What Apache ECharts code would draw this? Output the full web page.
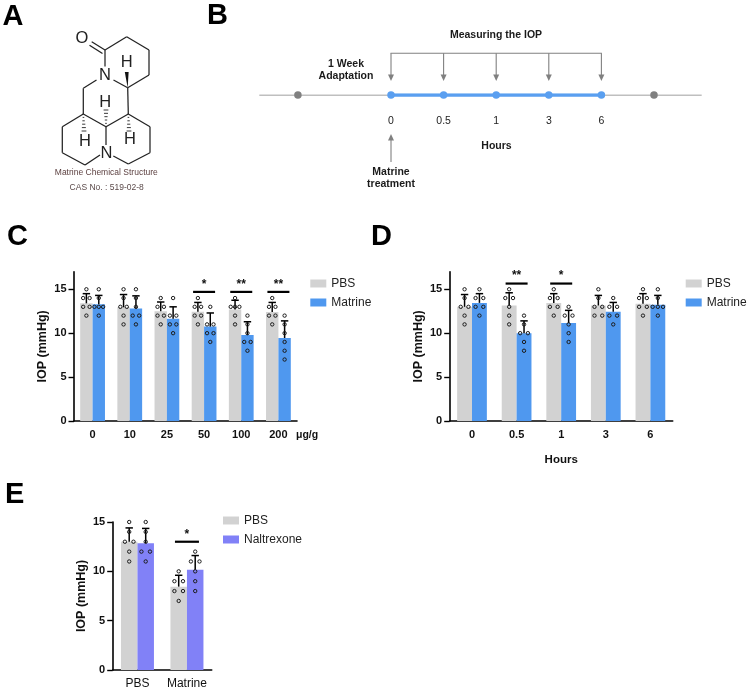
<!DOCTYPE html>
<html><head><meta charset="utf-8">
<style>html,body{margin:0;padding:0;background:#fff}#c{width:750px;height:693px}</style>
<script src="https://cdn.jsdelivr.net/npm/echarts@6/dist/echarts.min.js"></script>
</head><body><div id="c"></div>
<script>
// ---------- Data ----------
const catsC = ['0','10','25','50','100','200'];
const meanPbsC = [13.4,12.95,12.5,12.45,12.7,12.4];
const meanMatC = [13.3,12.8,11.65,10.75,9.8,9.45];
const capPbsC = [14.5,14.4,13.55,13.5,13.75,13.5];
const capMatC = [14.3,14.25,13.0,12.3,11.3,11.4];
const dotsPbsC = [[15,14,14,13,13,12],[15,14,13,13,12,11],[14,13,13,12,12,11],[14,13,13,12,12,11],[14,13,13,13,12,11],[14,13,13,12,12,11]];
const dotsMatC = [[15,14,13,13,13,12],[15,14,13,12,12,11],[14,12,12,11,11,10],[13,11,11,10,10,9],[12,11,10,9,9,8],[12,11,10,9,8,7]];
const sigC = [[3,14.7,'*'],[4,14.7,'**'],[5,14.7,'**']];

const catsD = ['0','0.5','1','3','6'];
const meanPbsD = [13.0,13.15,13.45,13.15,13.35];
const meanMatD = [13.45,10.0,11.15,12.45,13.25];
const capPbsD = [14.4,14.6,14.5,14.3,14.5];
const capMatD = [14.5,11.4,12.6,13.5,14.3];
const dotsPbsD = [[15,14,13,13,12,11],[15,14,14,13,12,11],[15,14,14,13,13,12],[15,14,13,13,12,12],[15,14,14,13,13,12]];
const dotsMatD = [[15,14,14,13,13,12],[12,11,10,10,9,8],[13,12,12,11,10,9],[14,13,13,12,12,11],[15,14,13,13,13,12]];
const sigD = [[1,15.65,'**'],[2,15.65,'*']];

const catsE = ['PBS','Matrine'];
const meanPbsE = [13.0,8.45];
const meanNalE = [12.85,10.15];
const capPbsE = [14.4,9.6];
const capNalE = [14.35,11.6];
const dotsPbsE = [[15,14,13,13,12,11],[10,9,9,8,8,7]];
const dotsNalE = [[15,14,13,12,12,11],[12,11,11,10,9,8]];
const sigE = [[1,13,'*']];
const yTicks = [0,5,10,15];

const timelineSlots = [-1.77,0,1,2,3,4,5];
const timelineHours = ['', '0','0.5','1','3','6',''];

// ---------- Style ----------
const FONT='"Liberation Sans",Arial,sans-serif', INK='#111';
const GRAY='#d2d2d2', BLUE='#4f98ef', PURPLE='#8181f7', LINEGRAY='#808080', TLBLUE='#5a9ff0';

function flat(dotsByCat, side){
  const out=[];
  dotsByCat.forEach((vals,cat)=>{
    const rows={};
    vals.forEach(v=>{rows[v]=(rows[v]||0)+1;});
    Object.keys(rows).forEach(k=>{
      const n=rows[k];
      for(let i=0;i<n;i++) out.push([cat,+k,side,n,i]);
    });
  });
  return out;
}
function dotItem(p,a){
  const pt=a.coord([a.value(0),a.value(1)]);
  const band=a.size([1,0])[0], bw=band/3;
  const side=a.value(2), n=a.value(3), i=a.value(4);
  const step = n===1?0 : n===2 ? 0.52*bw : 0.35*bw;
  const dx=(i-(n-1)/2)*step;
  return {type:'circle',shape:{cx:pt[0]+side*bw/2+dx,cy:pt[1],r:1.7},
    style:{fill:'none',stroke:'#1c1c1c',lineWidth:1}};
}
function errItem(p,a){
  const band=a.size([1,0])[0], bw=band/3, side=a.value(2);
  const m=a.coord([a.value(0),a.value(1)]), t=a.coord([a.value(0),a.value(3)]);
  const x=m[0]+side*bw/2;
  return {type:'group',children:[
    {type:'line',shape:{x1:x,y1:m[1],x2:x,y2:t[1]},style:{stroke:'#000',lineWidth:1.5}},
    {type:'line',shape:{x1:x-3.7,y1:t[1],x2:x+3.7,y2:t[1]},style:{stroke:'#000',lineWidth:1.5}}
  ]};
}
function sigItem(p,a){
  const pt=a.coord([a.value(0),a.value(1)]);
  const half=a.value(3)/2;
  return {type:'group',children:[
    {type:'line',shape:{x1:pt[0]-half,y1:pt[1],x2:pt[0]+half,y2:pt[1]},style:{stroke:'#000',lineWidth:2.2}},
    {type:'text',x:pt[0],y:pt[1]-7.5,style:{text:a.value(2)===1?'*':'**',align:'center',verticalAlign:'middle',font:'bold 12px '+FONT,fill:INK}}
  ]};
}
const grids=[], xAxes=[], yAxes=[], series=[];
function panel(g){
  const i=grids.length;
  grids.push({left:g.left,top:g.top,width:g.width,height:g.height});
  xAxes.push({type:'category',gridIndex:i,data:g.cats,boundaryGap:true,
    axisLine:{lineStyle:{color:'#000',width:1.6}},
    axisTick:{alignWithLabel:true,length:5,lineStyle:{color:'#000',width:1.4}},
    axisLabel:{color:INK,interval:0,fontFamily:FONT,fontSize:g.xFont,fontWeight:g.xWeight,margin:g.xMargin},
    name:g.xName||'',nameLocation:'center',nameGap:33,
    nameTextStyle:{color:INK,fontFamily:FONT,fontSize:11.5,fontWeight:'bold'}});
  yAxes.push({type:'value',gridIndex:i,min:0,max:g.max,interval:5,splitLine:{show:false},
    axisLine:{show:true,lineStyle:{color:'#000',width:1.6}},
    axisTick:{show:true,length:5.5,lineStyle:{color:'#000',width:1.4},customValues:yTicks},
    axisLabel:{color:INK,fontFamily:FONT,fontSize:11,fontWeight:'bold',margin:7.5,customValues:yTicks},
    name:'IOP (mmHg)',nameLocation:'center',nameGap:24.5,
    nameTextStyle:{color:INK,fontFamily:FONT,fontSize:12.5,fontWeight:'bold'}});
  g.bars.forEach(b=>series.push({type:'bar',name:b.name,xAxisIndex:i,yAxisIndex:i,data:b.mean,
    barWidth:'33.33%',barGap:0,itemStyle:{color:b.color},silent:true}));
  const sides=[-1,1];
  const errs=[],dots=[];
  g.bars.forEach((b,k)=>{
    b.mean.forEach((m,c)=>errs.push([c,m,sides[k],b.cap[c]]));
    dots.push(...flat(b.dots,sides[k]));
  });
  series.push({type:'custom',name:'error',xAxisIndex:i,yAxisIndex:i,data:errs,encode:{x:0,y:1},renderItem:errItem,silent:true,z:3});
  series.push({type:'custom',name:'points',xAxisIndex:i,yAxisIndex:i,data:dots,encode:{x:0,y:1},renderItem:dotItem,silent:true,z:4});
  series.push({type:'custom',name:'significance',xAxisIndex:i,yAxisIndex:i,
    data:g.sig.map(s=>[s[0],s[1],s[2].length,g.sigW]),encode:{x:0,y:1},renderItem:sigItem,silent:true,z:5});
}
panel({left:74,top:271.7,width:223,height:149.3,max:17,cats:catsC,xFont:11,xWeight:'bold',xMargin:8,sigW:22,sig:sigC,
  bars:[{name:'PBS',color:GRAY,mean:meanPbsC,cap:capPbsC,dots:dotsPbsC},{name:'Matrine',color:BLUE,mean:meanMatC,cap:capMatC,dots:dotsMatC}]});
panel({left:449.7,top:271.7,width:223,height:149.3,max:17,cats:catsD,xFont:11,xWeight:'bold',xMargin:8,xName:'Hours',sigW:22,sig:sigD,
  bars:[{name:'PBS',color:GRAY,mean:meanPbsD,cap:capPbsD,dots:dotsPbsD},{name:'Matrine',color:BLUE,mean:meanMatD,cap:capMatD,dots:dotsMatD}]});
panel({left:112.7,top:522,width:99,height:148,max:15,cats:catsE,xFont:12,xWeight:'normal',xMargin:8,sigW:24,sig:sigE,
  bars:[{name:'PBS',color:GRAY,mean:meanPbsE,cap:capPbsE,dots:dotsPbsE},{name:'Naltrexone',color:PURPLE,mean:meanNalE,cap:capNalE,dots:dotsNalE}]});

// ---------- Panel B timeline on a hidden axis ----------
const tl=grids.length;
grids.push({left:259.3,top:95,width:442.4,height:1});
xAxes.push({type:'value',gridIndex:tl,min:-2.504,max:5.907,show:false});
yAxes.push({type:'value',gridIndex:tl,min:0,max:1,show:false});
series.push({type:'line',name:'baseline',xAxisIndex:tl,yAxisIndex:tl,data:[[-2.504,1],[5.907,1]],symbol:'none',silent:true,
  lineStyle:{color:LINEGRAY,width:1.2},z:2});
series.push({type:'line',name:'measurement',xAxisIndex:tl,yAxisIndex:tl,data:timelineSlots.slice(1,6).map((x,i)=>({value:[x,1],label:{show:true,formatter:timelineHours[i+1]}})),
  symbol:'circle',symbolSize:7.5,silent:true,lineStyle:{color:TLBLUE,width:3.4},itemStyle:{color:TLBLUE},z:3,
  label:{show:true,position:'bottom',distance:17,color:'#222',fontFamily:FONT,fontSize:10.5}});
series.push({type:'scatter',name:'adaptation',xAxisIndex:tl,yAxisIndex:tl,data:[[timelineSlots[0],1],[timelineSlots[6],1]],
  symbolSize:7.5,itemStyle:{color:LINEGRAY,opacity:1},silent:true,z:3});
function arrow(x,y1,tipY){
  const dir=tipY>y1?1:-1;
  return [
    {type:'line',shape:{x1:x,y1:y1,x2:x,y2:tipY-dir*5},style:{stroke:LINEGRAY,lineWidth:1.1}},
    {type:'polygon',shape:{points:[[x-3,tipY-dir*6.5],[x+3,tipY-dir*6.5],[x,tipY]]},style:{fill:LINEGRAY}}
  ];
}
series.push({type:'custom',name:'arrows',xAxisIndex:tl,yAxisIndex:tl,data:timelineSlots.slice(1,6).map(x=>[x,1]),silent:true,z:2,
  encode:{x:0,y:1},
  renderItem:(p,a)=>{
    const x=a.coord([a.value(0),1])[0], kids=arrow(x,53.3,81);
    if(p.dataIndex===0){
      kids.push(...arrow(x,162,134));
      kids.push({type:'line',shape:{x1:x-0.5,y1:53.3,x2:a.coord([timelineSlots[5],1])[0]+0.5,y2:53.3},style:{stroke:LINEGRAY,lineWidth:1.1}});
    }
    return {type:'group',children:kids};
  }});

// ---------- Panel A structure (illustration) ----------
const bonds=[
 [[91.7,41.7],[105,50]],[[89.5,45.2],[102.5,53.5]],
 [[105,50],[126.7,36.7]],[[126.7,36.7],[149,50]],[[149,50],[149,75]],[[149,75],[127.7,87.7]],[[127.7,87.7],[113.5,80]],[[105,50],[105,66.5]],
 [[96.5,80],[83.3,88.3]],[[83.3,88.3],[83.3,114]],[[83.3,114],[62.3,126.7]],[[62.3,126.7],[62.3,152.7]],[[62.3,152.7],[85,165]],[[85,165],[100,155]],
 [[83.3,114],[106,126.7]],[[106,126.7],[106,145]],[[106,126.7],[128.3,114]],[[128.3,114],[127.7,87.7]],
 [[128.3,114],[150,126.7]],[[150,126.7],[150,152.7]],[[150,152.7],[128.3,164]],[[128.3,164],[113.3,156]]
];
const atoms=[['O',82,38.8],['N',105,75.5],['N',106.5,153.5],['H',126.7,62.5],['H',105.3,102],['H',85,141],['H',130,139.5]];
const hashed=[[[106,126.7],[106,110]],[[83.3,114],[84,131]],[[128.3,114],[129,131]]];
const panelLetters=[['A',2.5,17],['B',207,16],['C',7,236.5],['D',371,236.5],['E',5,494.5]];
const bTexts=[['Measuring the IOP',496,34.7,1],['1 Week',346,64,1],['Adaptation',346,76.5,1],['Hours',496.5,146,1],['Matrine',391,171.7,1],['treatment',391,183.7,1]];
const g=[];
bonds.forEach(b=>g.push({type:'line',silent:true,shape:{x1:b[0][0],y1:b[0][1],x2:b[1][0],y2:b[1][1]},style:{stroke:'#222',lineWidth:1.25}}));
atoms.forEach(a=>g.push({type:'text',silent:true,x:a[1],y:a[2],style:{text:a[0],x:0,y:0,align:'center',verticalAlign:'middle',font:'16.5px '+FONT,fill:'#222'}}));
g.push({type:'polygon',silent:true,shape:{points:[[127.7,87.7],[124.8,72],[128.6,72]]},style:{fill:'#111'}});
hashed.forEach(h=>{
  const n=6;
  for(let i=0;i<n;i++){
    const t=i/(n-1), x=h[0][0]+(h[1][0]-h[0][0])*t, y=h[0][1]+(h[1][1]-h[0][1])*t, w=0.4+t*2;
    g.push({type:'line',silent:true,shape:{x1:x-w,y1:y,x2:x+w,y2:y},style:{stroke:'#222',lineWidth:0.9}});
  }
});
g.push({type:'text',silent:true,x:106.3,y:173,style:{text:'Matrine Chemical Structure',align:'center',verticalAlign:'middle',font:'8.5px '+FONT,fill:'#5b3f3f'}});
g.push({type:'text',silent:true,x:106.7,y:187.7,style:{text:'CAS No. : 519-02-8',align:'center',verticalAlign:'middle',font:'8.5px '+FONT,fill:'#5b4a4a'}});
panelLetters.forEach(l=>g.push({type:'text',silent:true,x:l[1],y:l[2],style:{text:l[0],align:'left',verticalAlign:'middle',font:'bold 29px '+FONT,fill:'#000'}}));
bTexts.forEach(t=>g.push({type:'text',silent:true,x:t[1],y:t[2],style:{text:t[0],align:'center',verticalAlign:'middle',font:'bold 10.5px '+FONT,fill:'#1a1a1a'}}));
g.push({type:'text',silent:true,x:296,y:435,style:{text:'μg/g',align:'left',verticalAlign:'middle',font:'bold 10.5px '+FONT,fill:INK}});

const legendBase={orient:'vertical',icon:'rect',itemWidth:16,itemHeight:8,itemGap:7,selectedMode:false,
  textStyle:{color:'#222',fontFamily:FONT,fontSize:12}};
const chart=echarts.init(document.getElementById('c'),null,{renderer:'canvas'});
chart.setOption({
  animation:false,backgroundColor:'#fff',
  grid:grids,xAxis:xAxes,yAxis:yAxes,series:series,
  legend:[
    Object.assign({},legendBase,{left:305.3,top:272.5,data:['PBS','Matrine']}),
    Object.assign({},legendBase,{left:680.7,top:272.5,data:['PBS','Matrine']}),
    Object.assign({},legendBase,{left:218,top:509.5,data:['PBS','Naltrexone']})
  ],
  graphic:{elements:g}
});
</script></body></html>
